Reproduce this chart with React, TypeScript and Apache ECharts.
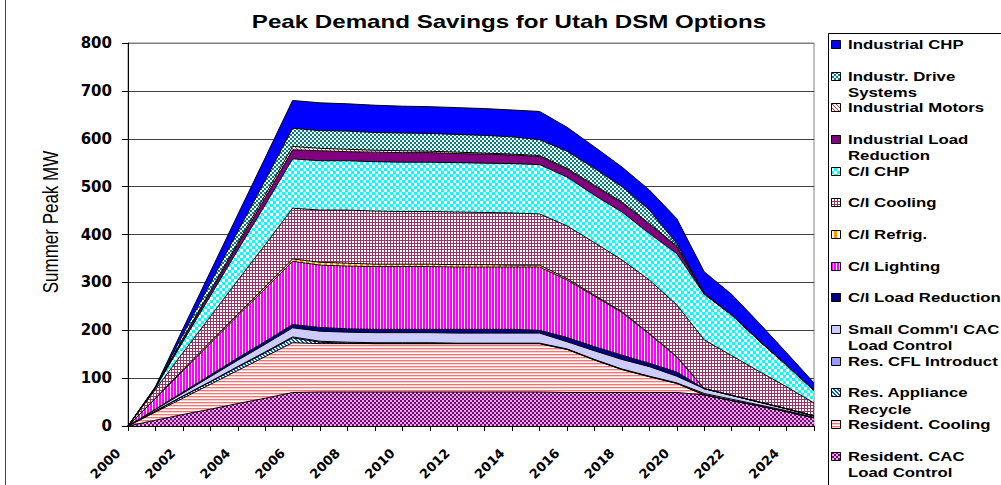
import { useEffect, useRef } from 'react';
import * as echarts from 'echarts';

const years = ['2000','2001','2002','2003','2004','2005','2006','2007','2008','2009','2010','2011','2012','2013','2014','2015','2016','2017','2018','2019','2020','2021','2022','2023','2024','2025'];

const resCAC = [0, 12, 24, 35, 47, 58, 70, 71, 71, 71, 71, 71, 71, 71, 71, 71, 70, 70, 70, 70, 70, 65, 53, 42, 30, 17];
const resCooling = [0, 17, 34, 52, 69, 87, 104, 101, 101, 101, 101, 101, 101, 101, 101, 101, 90, 68, 48, 33, 19, 0, 0, 0, 0, 0];
const resAppliance = [0, 2, 4, 5, 7, 8, 10, 3, 1, 0, 0, 0, 0, 0, 0, 0, 0, 0, 0, 0, 0, 0, 0, 0, 0, 0];
const resCFL = [0, 0.3, 0.6, 1, 1.3, 1.7, 2, 2, 2, 2, 2, 2, 1, 1, 1, 1, 1, 1, 1, 1, 1, 3, 3, 2, 2, 1];
const smallCommCAC = [0, 3, 6, 10, 13, 16, 19, 21, 21, 21, 21, 21, 21, 21, 21, 21, 15, 18, 20, 20, 14, 10, 8, 6, 4, 3];
const ciLoadRed = [0, 1, 2.5, 3.5, 5, 6, 7, 8, 7, 7, 7, 7, 8, 8, 8, 6, 9, 9, 9, 7, 9, 0, 0, 0, 0, 0];
const ciLighting = [0, 22, 44, 66, 88, 110, 132, 130, 131, 131, 131, 131, 130, 130, 130, 132, 120, 105, 89, 61, 31, 0, 0, 0, 0, 0];
const ciRefrig = [0, 1, 2, 3, 3, 4, 5, 6, 6, 5, 5, 5, 5, 5, 4, 4, 3, 2, 2, 1, 1, 0, 0, 0, 0, 0];
const ciCooling = [0, 18, 36, 53, 71, 88, 106, 109, 111, 111, 110, 110, 110, 109, 109, 107, 110, 110, 108, 112, 108, 102, 83, 64, 46, 27];
const ciCHP = [0, 3, 23, 43, 63, 83, 103, 103, 103, 103, 103, 103, 103, 103, 103, 103, 102, 99, 100, 97, 107, 95, 85, 64, 45, 26];
const indLoadRed = [0, 1, 4.6, 8, 12, 15, 19, 21, 19, 20, 20, 20, 19, 19, 18, 17, 16, 19, 19, 19, 14, 1, 0, 0, 0, 0];
const indMotors = [0, 0.5, 2, 3, 4, 6, 7, 5, 5, 4, 4, 3, 3, 2, 2, 2, 2, 2, 2, 2, 2, 0, 0, 0, 0, 0];
const indDrive = [0, 0.5, 8, 15.5, 23, 30.5, 38, 37, 38, 37, 37, 37, 37, 37, 36, 33, 36, 35, 32, 28, 5, 0, 0, 0, 0, 0];
const indCHP = [0, 1, 12, 24, 35, 47, 58, 58, 57, 57, 56, 56, 56, 56, 56, 59, 50, 45, 41, 42, 52, 46, 43, 37, 26, 16];

// legend order (top to bottom) — series stacked in reverse
const legendLabels: string[][] = [
  ['Industrial CHP'],
  ['Industr. Drive', 'Systems'],
  ['Industrial Motors'],
  ['Industrial Load', 'Reduction'],
  ['C/I CHP'],
  ['C/I Cooling'],
  ['C/I Refrig.'],
  ['C/I Lighting'],
  ['C/I Load Reduction'],
  ["Small Comm'l CAC", 'Load Control'],
  ['Res. CFL Introduct'],
  ['Res. Appliance', 'Recycle'],
  ['Resident. Cooling'],
  ['Resident. CAC', 'Load Control'],
];
const legendData = [indCHP, indDrive, indMotors, indLoadRed, ciCHP, ciCooling, ciRefrig, ciLighting, ciLoadRed, smallCommCAC, resCFL, resAppliance, resCooling, resCAC];

function makePattern(w: number, h: number, draw: (g: CanvasRenderingContext2D) => void, bg = '#ffffff') {
  const c = document.createElement('canvas');
  c.width = w;
  c.height = h;
  const g = c.getContext('2d')!;
  g.fillStyle = bg;
  g.fillRect(0, 0, w, h);
  draw(g);
  return { image: c, repeat: 'repeat' as const };
}

function checker(col: string, s: number, bg = '#ffffff') {
  return makePattern(2 * s, 2 * s, (g) => {
    g.fillStyle = col;
    g.fillRect(0, 0, s, s);
    g.fillRect(s, s, s, s);
  }, bg);
}

export default function App() {
  const ref = useRef<HTMLDivElement>(null);
  useEffect(() => {
    const chart = echarts.init(ref.current!, null, { renderer: 'svg' });

    const fills: any[] = [
      '#0000FF', // Industrial CHP
      checker('#008080', 2), // Drive systems
      makePattern(4, 4, (g) => { g.fillStyle = '#C03030'; for (let i = 0; i < 4; i++) g.fillRect(i, i, 1, 1); }), // motors
      '#800080', // Ind load red
      checker('#00FFFF', 3), // C/I CHP
      makePattern(3, 3, (g) => { g.fillStyle = '#993366'; g.fillRect(0, 0, 3, 1); g.fillRect(0, 0, 1, 3); }), // cooling
      makePattern(6, 3, (g) => { g.fillStyle = '#FF9900'; g.fillRect(0, 0, 3, 3); }), // refrig
      makePattern(3, 1, (g) => { g.fillStyle = '#FF00FF'; g.fillRect(0, 0, 2, 1); }), // lighting
      '#000080', // C/I load red
      '#CCCCFF', // small comm
      '#9999FF', // CFL
      makePattern(4, 4, (g) => { g.fillStyle = '#0066CC'; for (let i = 0; i < 4; i++) { g.fillRect(i, i, 1, 1); g.fillRect((i + 1) % 4, i, 1, 1); } }), // appliance
      makePattern(1, 3, (g) => { g.fillStyle = '#FF7070'; g.fillRect(0, 0, 1, 1); g.fillStyle = '#FFD0D0'; g.fillRect(0, 1, 1, 1); }), // res cooling
      checker('#800080', 2, '#D8B0D8'), // res CAC
    ];

    const n = legendLabels.length;
    const series: any[] = [];
    for (let k = n - 1; k >= 0; k--) {
      series.push({
        name: legendLabels[k].join(' '),
        type: 'line',
        stack: 'total',
        data: legendData[k],
        symbol: 'none',
        showSymbol: false,
        silent: true,
        lineStyle: { color: '#000', width: 1 },
        areaStyle: { color: fills[k], opacity: 1 },
        emphasis: { disabled: true },
      });
    }

    const graphics: any[] = [
      { type: 'line', shape: { x1: 5.5, y1: 0, x2: 5.5, y2: 485 }, style: { stroke: '#444', lineWidth: 1 } },
      { type: 'rect', shape: { x: 828.5, y: 33.5, width: 200, height: 500 }, style: { fill: '#fff', stroke: '#000', lineWidth: 1 } },
      {
        type: 'text', x: 509, y: 22, scaleX: 1.34,
        style: { text: 'Peak Demand Savings for Utah DSM Options', font: 'bold 18px "Liberation Sans", Arial, sans-serif', fill: '#000', align: 'center', verticalAlign: 'middle' },
      },
      {
        type: 'text', x: 50, y: 222, rotation: Math.PI / 2, scaleY: 1.3,
        style: { text: 'Summer Peak MW', font: '17px "Liberation Sans", Arial, sans-serif', fill: '#000', align: 'center', verticalAlign: 'middle' },
      },
    ];
    for (let i = 0; i < n; i++) {
      const yc = 45 + i * 31.67;
      graphics.push({ type: 'rect', shape: { x: 831.5, y: Math.round(yc) - 4.5, width: 9, height: 8 }, style: { fill: fills[i], stroke: '#000', lineWidth: 1 } });
      legendLabels[i].forEach((line, j) => {
        graphics.push({
          type: 'text', x: 848, y: yc + j * 16.3, scaleX: 1.4,
          style: { text: line, font: 'bold 12px "Liberation Sans", Arial, sans-serif', fill: '#000', align: 'left', verticalAlign: 'middle' },
        });
      });
    }

    const gridColors = ['#404040', '#404040', '#404040', '#404040', '#404040', '#404040', '#404040', '#404040', '#808080'];

    chart.setOption({
      animation: false,
      backgroundColor: '#fff',
      grid: { left: 128, top: 43, width: 686, height: 383, show: true, borderColor: '#808080', borderWidth: 1, backgroundColor: '#fff' },
      xAxis: {
        type: 'category',
        data: years,
        boundaryGap: false,
        axisLine: { lineStyle: { color: '#000', width: 1 } },
        axisTick: { show: true, interval: 0, length: 5, lineStyle: { color: '#000' } },
        axisLabel: { interval: 1, rotate: 45, margin: 15, padding: [0, 14, 0, 0], fontFamily: 'DejaVu Sans', fontWeight: 'bold', fontSize: 13, color: '#000' },
        splitLine: { show: false },
      },
      yAxis: {
        type: 'value',
        min: 0,
        max: 800,
        interval: 100,
        axisLine: { show: true, lineStyle: { color: '#000', width: 1 } },
        axisTick: { show: true, length: 6, lineStyle: { color: '#000' } },
        axisLabel: { margin: 16, fontFamily: 'DejaVu Sans', fontWeight: 'bold', fontSize: 15, color: '#000' },
        splitLine: { show: true, lineStyle: { color: gridColors, width: 1 } },
      },
      series,
      graphic: graphics,
    });
    return () => chart.dispose();
  }, []);
  return <div ref={ref} style={{ position: 'absolute', left: 0, top: 0, width: 1001, height: 485, background: '#fff' }} />;
}
